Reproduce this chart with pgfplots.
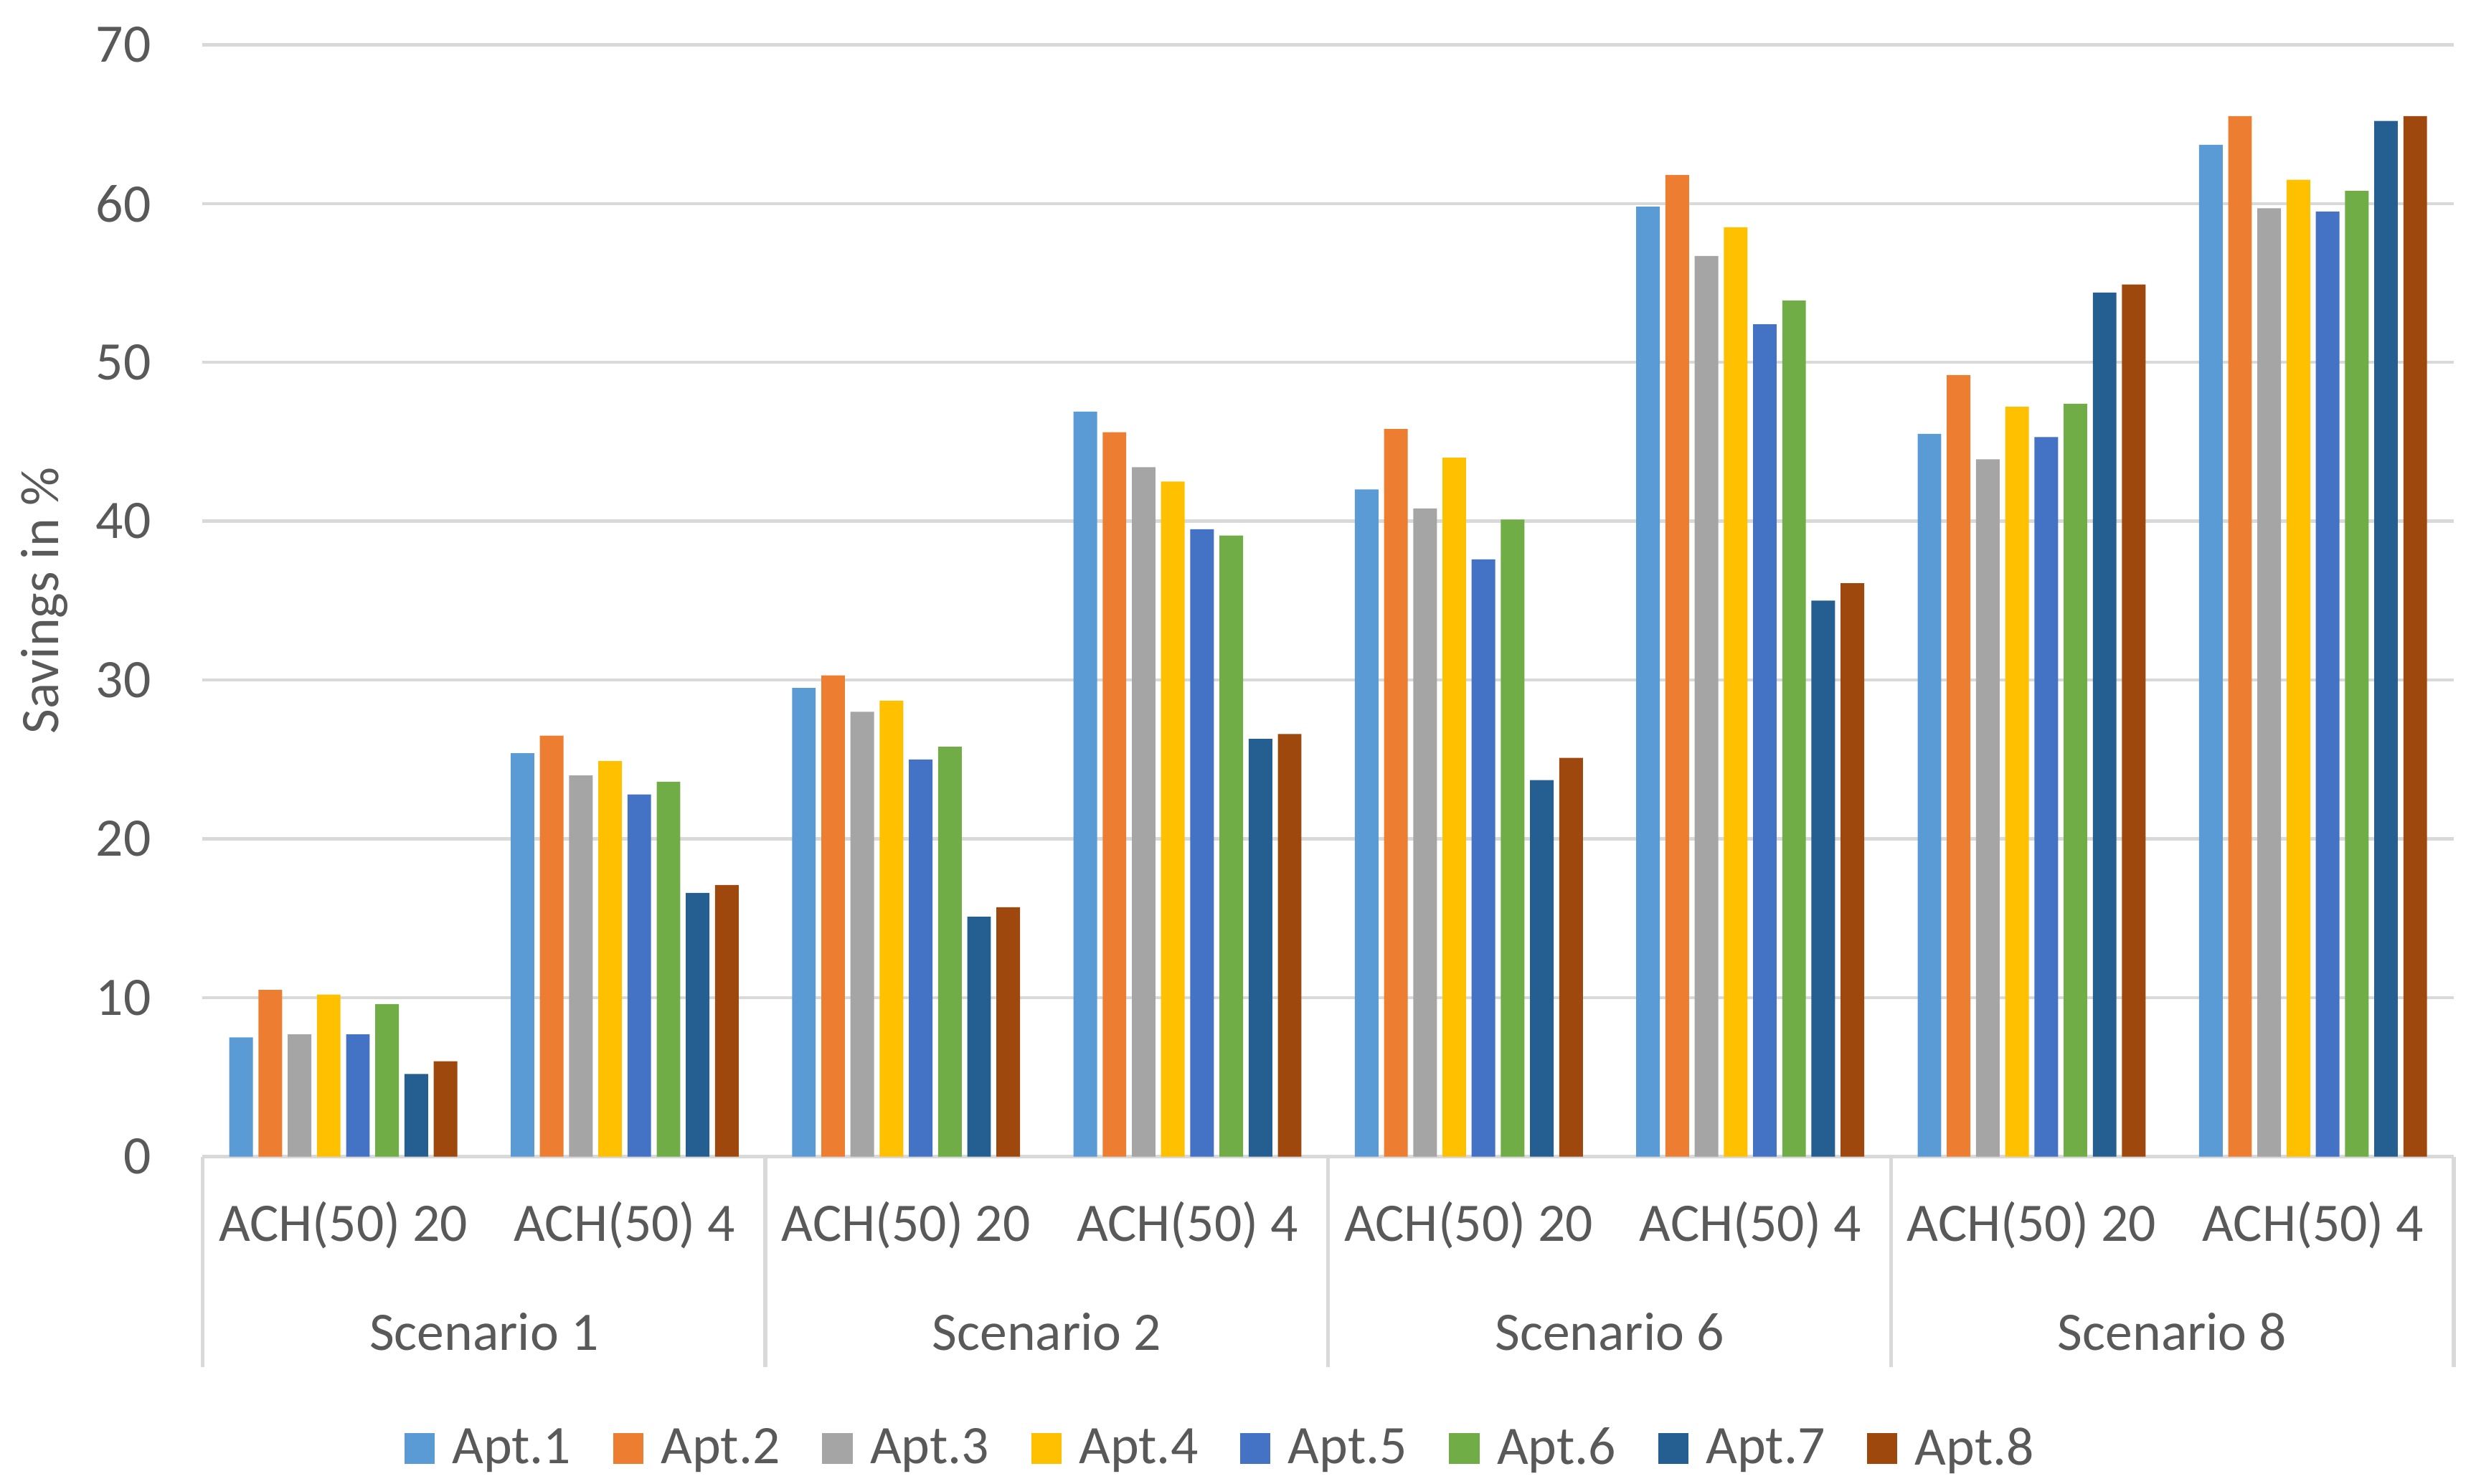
\documentclass[border=0pt]{standalone}
\usepackage{fontspec}
\setmainfont{Carlito}
\usepackage{pgfplots}
\usepackage{pgfplotstable}
\pgfplotsset{compat=1.18}

\definecolor{txt}{HTML}{595959}
\definecolor{grid}{HTML}{D9D9D9}
\definecolor{aptA}{HTML}{5B9BD5}
\definecolor{aptB}{HTML}{ED7D31}
\definecolor{aptC}{HTML}{A5A5A5}
\definecolor{aptD}{HTML}{FFC000}
\definecolor{aptE}{HTML}{4472C4}
\definecolor{aptF}{HTML}{70AD47}
\definecolor{aptG}{HTML}{255E91}
\definecolor{aptH}{HTML}{9E480E}

% savings in %, one row per ACH case (S1 20, S1 4, S2 20, S2 4, S6 20, S6 4, S8 20, S8 4)
\pgfplotstableread{
x  a1    a2    a3    a4    a5    a6    a7    a8
0  7.5   10.5  7.7   10.2  7.7   9.6   5.2   6.0
1  25.4  26.5  24.0  24.9  22.8  23.6  16.6  17.1
2  29.5  30.3  28.0  28.7  25.0  25.8  15.1  15.7
3  46.9  45.6  43.4  42.5  39.5  39.1  26.3  26.6
4  42.0  45.8  40.8  44.0  37.6  40.1  23.7  25.1
5  59.8  61.8  56.7  58.5  52.4  53.9  35.0  36.1
6  45.5  49.2  43.9  47.2  45.3  47.4  54.4  54.9
7  63.7  65.5  59.7  61.5  59.5  60.8  65.2  65.5
}\savings

\begin{document}
\begin{tikzpicture}[font=\fontsize{17}{20}\selectfont, text=txt]
\begin{axis}[
    name=ax,
    scale only axis,
    width=705.5pt, height=348.5pt,
    ybar=1.75pt, bar width=7.4pt,
    xmin=-0.5, xmax=7.5,
    ymin=0, ymax=70,
    ytick={0,10,...,70},
    xtick=data,
    xticklabels={ACH(50) 20, ACH(50) 4, ACH(50) 20, ACH(50) 4,
                 ACH(50) 20, ACH(50) 4, ACH(50) 20, ACH(50) 4},
    axis x line*=bottom, axis y line*=left,
    y axis line style={draw=none},
    x axis line style={draw=grid, line width=1.2pt},
    major tick length=0pt,
    ymajorgrids, grid style={draw=grid, line width=1pt},
    yticklabel style={anchor=east, inner sep=0pt, xshift=-16pt},
    xticklabel style={anchor=center, yshift=-21.5pt},
    /pgf/number format/assume math mode=true,
    ylabel={Savings in \%},
    ylabel style={at={(axis description cs:0,0.5)}, anchor=center,
                  yshift=49.5pt},
    clip=false,
    legend style={at={(axis description cs:0.453,0)}, yshift=-91.5pt,
                  anchor=center, draw=none, fill=none,
                  legend columns=8,
                  /tikz/every odd column/.append style={column sep=3.5pt},
                  /tikz/every even column/.append style={column sep=11.2pt}},
    legend cell align=left,
    legend image code/.code={\fill[#1] (0pt,-4.75pt) rectangle (9.5pt,4.75pt);},
]
\addplot[fill=aptA, draw=none] table[x=x, y=a1] {\savings};
\addplot[fill=aptB, draw=none] table[x=x, y=a2] {\savings};
\addplot[fill=aptC, draw=none] table[x=x, y=a3] {\savings};
\addplot[fill=aptD, draw=none] table[x=x, y=a4] {\savings};
\addplot[fill=aptE, draw=none] table[x=x, y=a5] {\savings};
\addplot[fill=aptF, draw=none] table[x=x, y=a6] {\savings};
\addplot[fill=aptG, draw=none] table[x=x, y=a7] {\savings};
\addplot[fill=aptH, draw=none] table[x=x, y=a8] {\savings};
\legend{Apt.1, Apt.2, Apt.3, Apt.4, Apt.5, Apt.6, Apt.7, Apt.8}

% scenario level of the category axis
\pgfplotsinvokeforeach{-0.5, 1.5, 3.5, 5.5, 7.5}{
  \draw[grid, line width=1.2pt] (axis cs:#1,0) -- ++(0pt,-66pt);
}
\node[yshift=-55pt] at (axis cs:0.5,0) {Scenario 1};
\node[yshift=-55pt] at (axis cs:2.5,0) {Scenario 2};
\node[yshift=-55pt] at (axis cs:4.5,0) {Scenario 6};
\node[yshift=-55pt] at (axis cs:6.5,0) {Scenario 8};
\end{axis}
\path ([xshift=-63.5pt, yshift=-102.5pt]ax.south west)
      rectangle ([xshift=7pt, yshift=14pt]ax.north east);
\end{tikzpicture}
\end{document}
